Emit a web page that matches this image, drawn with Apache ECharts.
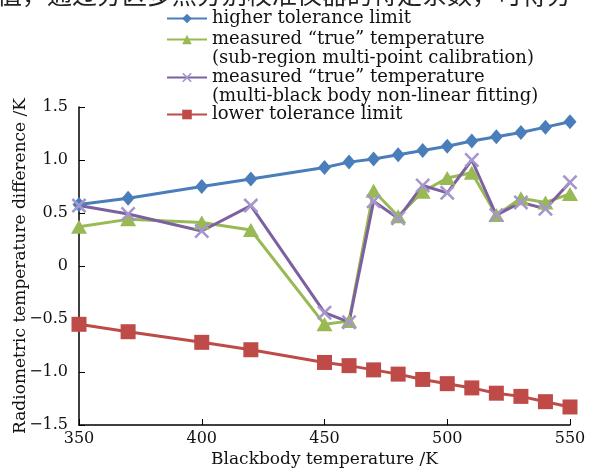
<!DOCTYPE html>
<html><head><meta charset="utf-8">
<script src="https://cdn.jsdelivr.net/npm/echarts@6/dist/echarts.min.js"></script>
<style>html,body{margin:0;padding:0;background:#fff}#c{width:611px;height:475px}</style>
</head><body><div id="c"></div>
<script>
const temps = [350, 370, 400, 420, 450, 460, 470, 480, 490, 500, 510, 520, 530, 540, 550];
const higherLimit = [0.58, 0.64, 0.75, 0.82, 0.93, 0.98, 1.01, 1.05, 1.09, 1.13, 1.18, 1.22, 1.26, 1.31, 1.36];
const subRegion = [0.37, 0.44, 0.41, 0.34, -0.55, -0.52, 0.71, 0.47, 0.70, 0.83, 0.88, 0.48, 0.64, 0.60, 0.68];
const multiBlack = [0.57, 0.49, 0.33, 0.57, -0.44, -0.53, 0.61, 0.45, 0.76, 0.69, 1.00, 0.48, 0.60, 0.54, 0.79];
const lowerLimit = [-0.55, -0.62, -0.72, -0.79, -0.91, -0.94, -0.98, -1.02, -1.07, -1.11, -1.15, -1.20, -1.23, -1.28, -1.33];
const seriesNames = [
  'higher tolerance limit',
  'measured “true” temperature\n(sub-region multi-point calibration)',
  'measured “true” temperature\n(multi-black body non-linear fitting)',
  'lower tolerance limit'
];
const topText = '值，通过分区多点分别校准仪器的特定系数，可得分';

const pair = arr => temps.map((t, i) => [t, arr[i]]);
const FONT = 'DejaVu Serif';
const xSym = 'path://M0,1.2L1.2,0L5,3.8L8.8,0L10,1.2L6.2,5L10,8.8L8.8,10L5,6.2L1.2,10L0,8.8L3.8,5Z';

const legendBase = (name, top, twoLine) => ({
  data: [name], left: 166, top: top, padding: 0, orient: 'vertical',
  itemWidth: 40, itemHeight: 12,
  formatter: n => twoLine ? '\n' + n : n,
  textStyle: { fontFamily: FONT, fontSize: 18, color: '#111', lineHeight: 19 },
  selectedMode: false
});

const chart = echarts.init(document.getElementById('c'), null, { renderer: 'canvas' });
chart.setOption({
  animation: false,
  backgroundColor: '#fff',
  graphic: [{
    type: 'text', x: -3, y: -18,
    style: { text: topText, font: '25px "Noto Sans CJK SC"', fill: '#222' }
  }],
  legend: [
    legendBase(seriesNames[0], 9, false),
    legendBase(seriesNames[1], 11, true),
    legendBase(seriesNames[2], 49, true),
    legendBase(seriesNames[3], 105, false)
  ],
  grid: { left: 79, right: 41, top: 107, bottom: 50, containLabel: false, outerBoundsMode: 'none' },
  xAxis: {
    type: 'value', min: 350, max: 550, interval: 50,
    name: 'Blackbody temperature /K', nameLocation: 'middle', nameGap: 26, nameMoveOverlap: false,
    nameTextStyle: { fontFamily: FONT, fontSize: 17, color: '#111' },
    axisLine: { onZero: false, lineStyle: { color: '#000', width: 1.5 } },
    axisTick: { inside: true, length: 6, lineStyle: { color: '#000' } },
    axisLabel: { fontFamily: FONT, fontSize: 16, color: '#111', margin: 6 },
    splitLine: { show: false }
  },
  yAxis: {
    type: 'value', min: -1.5, max: 1.5, interval: 0.5,
    name: 'Radiometric temperature difference /K', nameLocation: 'middle', nameGap: 50, nameMoveOverlap: false,
    nameTextStyle: { fontFamily: FONT, fontSize: 17, color: '#111' },
    axisLine: { show: true, lineStyle: { color: '#000', width: 1.5 } },
    axisTick: { show: true, inside: true, length: 6, lineStyle: { color: '#000' } },
    axisLabel: {
      fontFamily: FONT, fontSize: 16, color: '#111', margin: 11,
      formatter: v => v === 0 ? '0' : v.toFixed(1).replace('-', '−')
    },
    splitLine: { show: false }
  },
  series: [
    { name: seriesNames[0], type: 'line', data: pair(higherLimit),
      symbol: 'diamond', symbolSize: [13, 15], color: '#4A7EBB',
      lineStyle: { width: 3 } },
    { name: seriesNames[1], type: 'line', data: pair(subRegion),
      symbol: 'triangle', symbolSize: [16, 14], color: '#98B954',
      lineStyle: { width: 3 } },
    { name: seriesNames[2], type: 'line', data: pair(multiBlack),
      symbol: xSym, symbolSize: 15, color: '#7D60A0',
      itemStyle: { color: '#A596CC' },
      lineStyle: { width: 3, color: '#7D60A0' } },
    { name: seriesNames[3], type: 'line', data: pair(lowerLimit),
      symbol: 'rect', symbolSize: 15, color: '#BE4B48',
      lineStyle: { width: 3 } }
  ]
});
</script></body></html>
